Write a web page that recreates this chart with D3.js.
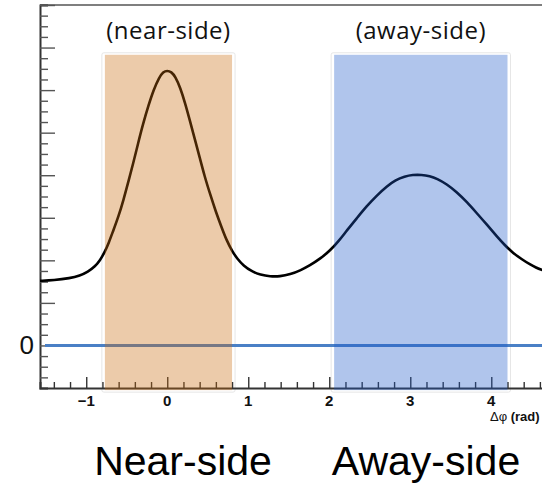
<!DOCTYPE html>
<html>
<head>
<meta charset="utf-8">
<script src="https://cdn.jsdelivr.net/npm/d3@7"></script>
<style>
  html, body { margin: 0; padding: 0; background: #fff; }
  svg { display: block; }
</style>
</head>
<body>
<svg id="chart" width="542" height="485"></svg>
<script>
// Correlation function C(Δφ) sampled along the curve
const curveX = [-1.571, -1.40, -1.20, -1.08, -0.98, -0.89, -0.83, -0.77, -0.72, -0.67, -0.60, -0.54, -0.48, -0.42, -0.36, -0.30, -0.23, -0.17, -0.10, -0.05, 0.00,
  0.05, 0.10, 0.16, 0.22, 0.28, 0.34, 0.40, 0.46, 0.53, 0.60, 0.67, 0.73, 0.80, 0.87, 0.94, 1.04, 1.15, 1.27, 1.39, 1.52, 1.64, 1.76, 1.89,
  2.01, 2.12, 2.22, 2.34, 2.46, 2.59, 2.71, 2.82, 2.93, 3.03, 3.14, 3.24, 3.33, 3.45, 3.57, 3.70, 3.82, 3.95, 4.07, 4.17, 4.27, 4.38, 4.48, 4.55, 4.63, 4.712];
const curveY = [1.52, 1.53, 1.58, 1.64, 1.73, 1.86, 2.00, 2.20, 2.42, 2.68, 3.04, 3.42, 3.85, 4.28, 4.75, 5.20, 5.65, 6.00, 6.30, 6.43, 6.46,
  6.43, 6.32, 6.06, 5.70, 5.28, 4.85, 4.42, 3.98, 3.55, 3.14, 2.78, 2.48, 2.22, 2.02, 1.88, 1.74, 1.66, 1.62, 1.62, 1.67, 1.76, 1.88, 2.04,
  2.23, 2.46, 2.71, 2.99, 3.27, 3.53, 3.74, 3.89, 3.97, 4.01, 4.01, 3.98, 3.92, 3.79, 3.61, 3.37, 3.11, 2.83, 2.56, 2.35, 2.17, 2.02, 1.90, 1.83, 1.77, 1.71];

// Integration windows (Δφ ranges)
const regionNames = ["(near-side)", "(away-side)"];
const regionLabels = ["Near-side", "Away-side"];
const regionFrom = [-0.77, 2.06];
const regionTo = [0.80, 4.20];
const regionColors = ["#c96a0c", "#1d59c9"];
const regionTop = 6.83;
const regionBottom = -1.05;

// Axis ticks
const xMajorTicks = [-1, 0, 1, 2, 3, 4];
const xTickLabels = ["\u22121", "0", "1", "2", "3", "4"];
const yLabelTicks = [0];
const yLabelText = ["0"];

const xDomain = [-Math.PI / 2, 3 * Math.PI / 2];
const yDomain = [-1, 8];

const svg = d3.select("#chart");
const x = d3.scaleLinear().domain(xDomain).range([40, 549]);
const y = d3.scaleLinear().domain(yDomain).range([388, 5]);

const axisColor = "#333";

// light outlines around the windows
svg.append("g").selectAll("rect")
  .data(regionFrom)
  .join("rect")
  .attr("x", (d) => x(d) - 3)
  .attr("y", y(regionTop) - 2)
  .attr("width", (d, i) => x(regionTo[i]) - x(d) + 6)
  .attr("height", y(regionBottom) - y(regionTop) + 4)
  .attr("rx", 2)
  .attr("fill", "#fff")
  .attr("stroke", "#e6e6e6")
  .attr("stroke-width", 1);

// frame: top border
svg.append("line")
  .attr("x1", x(xDomain[0])).attr("x2", x(xDomain[1]))
  .attr("y1", y(yDomain[1])).attr("y2", y(yDomain[1]))
  .attr("stroke", "#555").attr("stroke-width", 1.5);

// x axis with inward ticks (major every 1, minor every 0.2)
const xAxis = d3.axisTop(x)
  .tickValues(d3.range(-1.4, 4.61, 0.2).map((v) => Math.round(v * 10) / 10))
  .tickSize(6)
  .tickFormat("");
const gx = svg.append("g").attr("transform", `translate(0,${y(yDomain[0])})`).call(xAxis);
gx.select(".domain").attr("stroke", axisColor).attr("stroke-width", 2);
gx.selectAll(".tick line")
  .attr("stroke", axisColor).attr("stroke-width", 1.4)
  .attr("y2", (d) => (Math.abs(d - Math.round(d)) < 1e-6 ? -11 : -6));

// y axis with inward ticks (major every 1, minor every 0.25)
const yAxis = d3.axisRight(y)
  .tickValues(d3.range(-0.75, 8.01, 0.25))
  .tickSize(8)
  .tickFormat("");
const gy = svg.append("g").attr("transform", `translate(${x(xDomain[0])},0)`).call(yAxis);
gy.select(".domain").attr("stroke", axisColor).attr("stroke-width", 2);
gy.selectAll(".tick line")
  .attr("stroke", "#555").attr("stroke-width", 1.4)
  .attr("x2", (d) => (Math.abs(d - Math.round(d)) < 1e-6 ? 15 : 8));

// x tick labels
svg.append("g").selectAll("text")
  .data(xMajorTicks)
  .join("text")
  .attr("x", (d) => x(d))
  .attr("y", 406)
  .attr("text-anchor", "middle")
  .attr("font-family", "Liberation Sans, Arial, sans-serif")
  .attr("font-weight", "bold")
  .attr("font-size", 15)
  .attr("fill", "#111")
  .text((d, i) => xTickLabels[i]);

// y label
svg.append("g").selectAll("text")
  .data(yLabelTicks)
  .join("text")
  .attr("x", 34)
  .attr("y", (d) => y(d) + 9)
  .attr("text-anchor", "end")
  .attr("font-family", "Liberation Sans, Arial, sans-serif")
  .attr("font-size", 26)
  .attr("fill", "#111")
  .text((d, i) => yLabelText[i]);

// x axis title
const title = svg.append("text")
  .attr("x", 490).attr("y", 421)
  .attr("font-family", "Liberation Sans, Arial, sans-serif")
  .attr("font-size", 13)
  .attr("fill", "#111");
title.append("tspan").text("\u0394\u03c6 ");
title.append("tspan").attr("font-weight", "bold").text("(rad)");

// zero baseline
svg.append("line")
  .attr("x1", 45).attr("x2", x(xDomain[1]))
  .attr("y1", y(0)).attr("y2", y(0))
  .attr("stroke", "#4a80c6").attr("stroke-width", 3);

// correlation curve
const pts = curveX.map((v, i) => [v, curveY[i]]);
svg.append("path")
  .datum(pts)
  .attr("fill", "none")
  .attr("stroke", "#000")
  .attr("stroke-width", 2.6)
  .attr("d", d3.line().x((d) => x(d[0])).y((d) => y(d[1])).curve(d3.curveBasis));

// translucent integration windows
svg.append("g").selectAll("rect")
  .data(regionFrom)
  .join("rect")
  .attr("x", (d) => x(d))
  .attr("y", y(regionTop))
  .attr("width", (d, i) => x(regionTo[i]) - x(d))
  .attr("height", y(regionBottom) - y(regionTop))
  .attr("fill", (d, i) => regionColors[i])
  .attr("fill-opacity", 0.35);

// window captions above
svg.append("g").selectAll("text")
  .data(regionNames)
  .join("text")
  .attr("x", (d, i) => (x(regionFrom[i]) + x(regionTo[i])) / 2)
  .attr("y", 39)
  .attr("text-anchor", "middle")
  .attr("font-family", "Open Sans, sans-serif")
  .attr("font-size", 24)
  .attr("letter-spacing", 0.5)
  .attr("fill", "#111")
  .text((d) => d);

// region names below the axis
svg.append("g").selectAll("text")
  .data(regionLabels)
  .join("text")
  .attr("x", (d, i) => [183, 426][i])
  .attr("y", 475)
  .attr("text-anchor", "middle")
  .attr("font-family", "Liberation Sans, Arial, sans-serif")
  .attr("font-size", 41)
  .attr("fill", "#000")
  .text((d) => d);
</script>
</body>
</html>
